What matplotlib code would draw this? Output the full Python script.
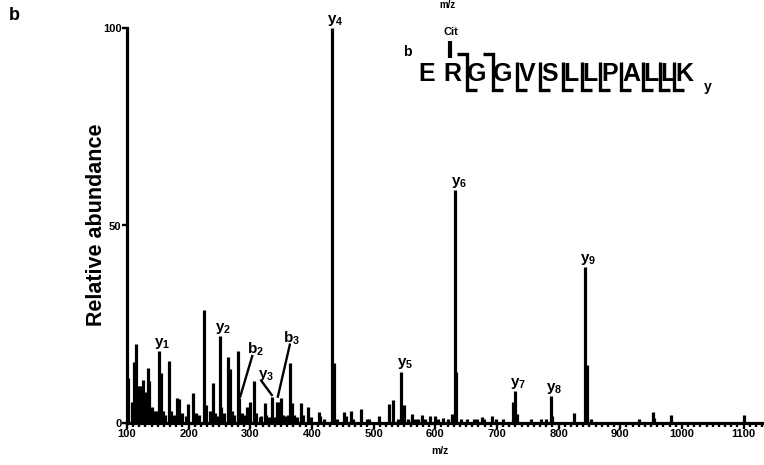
import numpy as np
import matplotlib.pyplot as plt
from matplotlib.ticker import MultipleLocator

plt.rcParams['font.family'] = ['Liberation Sans', 'DejaVu Sans']
plt.rcParams['mathtext.fontset'] = 'custom'
plt.rcParams['mathtext.rm'] = 'Liberation Sans'
plt.rcParams['mathtext.bf'] = 'Liberation Sans:bold'

# MS/MS spectrum (m/z, relative abundance)
mz = [102, 108, 111, 114, 119, 121, 126.5, 129, 134.6, 136, 140, 144, 147,
      152, 154.6, 158, 161, 168, 171, 176, 181.6, 185, 190, 196, 199.5, 207.6,
      212, 216, 224.9, 228, 234, 240, 243, 246, 250.3, 252.5, 257, 264.4, 267,
      270, 273, 280, 282, 286, 291, 295, 299.5, 306.5, 310, 315, 318, 323.8,
      326, 331, 335.7, 339, 343.8, 347, 350, 353, 358, 361, 364.4, 367, 371,
      375, 381.7, 386, 394, 399, 411, 413.5, 420, 433, 435.8, 440, 452, 455,
      463, 467, 479, 489, 492, 509, 525.5, 532, 539, 544.9, 549.8, 555, 561.8,
      567, 572, 579, 584, 591, 599, 605, 612, 620, 626.5, 632, 634, 641, 651,
      663, 667, 675, 679, 692, 699, 710, 726.6, 729.9, 732, 755, 771, 779,
      787.2, 789, 825.5, 843.4, 846, 852, 930, 953.7, 955, 982.9, 1100.8]
abundance = [11.4, 5.3, 15.5, 20, 9.4, 9.4, 10.9, 7.8, 13.9, 10.6, 4, 3, 3,
             18.2, 12.6, 3, 2, 15.7, 3, 2, 6.3, 6, 2.5, 1.8, 4.8, 7.6,
             2.5, 2, 28.6, 4.5, 3, 10.1, 2.5, 1.8, 21.9, 4, 2.5, 16.8, 13.7,
             3, 2, 18.2, 6.3, 2.5, 2, 4, 5.4, 10.6, 2.5, 1.5, 1.8, 5,
             2, 1.5, 6.7, 1.5, 5.4, 5.4, 6.3, 2, 1.8, 2, 15.1, 5, 2,
             1.5, 5.1, 2, 4.1, 1.5, 2.8, 1.8, 1, 100, 15.2, 1, 2.8, 1.8,
             3, 1, 3.5, 1, 1, 1.8, 4.8, 5.8, 1, 13, 4.6, 1, 2.3,
             1, 1, 2, 1, 1.8, 1.8, 1, 1.3, 1, 2.3, 59, 13, 1, 1,
             1, 1, 1.5, 1, 1.8, 1, 1, 5.2, 8.2, 2.3, 1, 1, 1,
             6.8, 1.8, 2.6, 39.4, 14.8, 1, 1, 2.7, 1.3, 2, 2]

# labelled fragment ions: letter, index, peak m/z, peak abundance
ion_type = ['y', 'y', 'y', 'y', 'y', 'y', 'y', 'y', 'y', 'b', 'b']
ion_num = ['1', '2', '3', '4', '5', '6', '7', '8', '9', '2', '3']
ion_mz = [152, 250.3, 335.7, 433, 544.9, 632, 729.9, 787.2, 843.4, 282, 343.8]
ion_ab = [18.2, 21.9, 6.7, 100, 13, 59, 8.2, 6.8, 39.4, 6.3, 5.4]

peptide = ['E', 'R', 'G', 'G', 'V', 'S', 'L', 'L', 'P', 'A', 'L', 'L', 'K']

W, H = 764, 465
fig = plt.figure(figsize=(W / 100, H / 100), dpi=100)
ax = fig.add_axes([127 / W, 1 - 423 / H, 1 - 127 / W, (423 - 28) / H])

ax.vlines(mz, 0, abundance, color='black', lw=2.3)
ax.set_xlim(100, 1133)
ax.set_ylim(0, 100)

for s in ['top', 'right']:
    ax.spines[s].set_visible(False)
for s in ['left', 'bottom']:
    ax.spines[s].set_linewidth(2.3)
    ax.spines[s].set_zorder(5)

ax.set_xticks(np.arange(100, 1101, 100))
ax.xaxis.set_minor_locator(MultipleLocator(10))
ax.set_yticks([0, 50, 100])
ax.tick_params(axis='x', which='major', length=4, width=1.7, pad=0.5)
ax.tick_params(axis='x', which='minor', length=3, width=1.7)
ax.tick_params(axis='y', which='major', length=3.5, width=1.7, pad=0.5)
for lab in ax.get_xticklabels() + ax.get_yticklabels():
    lab.set_family(['Liberation Sans Narrow', 'Liberation Sans'])
    lab.set_fontweight('bold')
    lab.set_fontsize(8)

fig.text(440 / W, 1 - 451 / H, 'm/z', ha='center', va='center',
         fontsize=7.5, fontweight='bold')
fig.text(447 / W, 1.0, 'm/z', ha='center', va='top',
         fontsize=7, fontweight='bold')
fig.text(97 / W, 1 - 225 / H, 'Relative abundance', rotation=90,
         ha='center', va='center', fontsize=15.5, fontweight='bold')
fig.text(14 / W, 1 - 15 / H, 'b', ha='center', va='center',
         fontsize=13, fontweight='bold')


def shift(x, y, dx, dy):
    px, py = ax.transData.transform((x, y))
    return ax.transData.inverted().transform((px + dx, py + dy))


# label placement (pixel offsets from the peak tip) and leader lines
label_off = {'y1': (-5, 0), 'y2': (-5, 0), 'y3': (-14, 14), 'y4': (-5, 0),
             'y5': (-4, 1), 'y6': (-4, 0), 'y7': (-5, 0), 'y8': (-5, 0),
             'y9': (-5, 0), 'b2': (8, 40), 'b3': (6, 55)}
leaders = {'b2': ((13, 42), (1, 1.5)), 'y3': ((-10.5, 15), (-0.5, 1.5)),
           'b3': ((12.5, 57), (0.5, 5))}

for t, n, x, y in zip(ion_type, ion_num, ion_mz, ion_ab):
    key = t + n
    dx, dy = label_off[key]
    tx, ty = shift(x, y, dx, dy)
    ax.text(tx, ty, r'$\mathbf{%s_{%s}}$' % (t, n), ha='left', va='bottom',
            fontsize=11, clip_on=False)
    if key in leaders:
        (sx, sy), (ex, ey) = leaders[key]
        p0 = shift(x, y, sx, sy)
        p1 = shift(x, y, ex, ey)
        ax.plot([p0[0], p1[0]], [p0[1], p1[1]], color='black', lw=1.7,
                clip_on=False)

# peptide sequence with fragment brackets (figure pixel layout)
letter_x = [427, 452, 477, 503, 527, 550, 571, 590, 610, 631, 651, 668, 684]
letter_y = 74
for ch, lx in zip(peptide, letter_x):
    fig.text(lx / W, 1 - letter_y / H, ch, ha='center', va='center',
             fontsize=18, fontweight='bold')


def fline(xs, ys, lw=2.4):
    fig.add_artist(plt.Line2D([v / W for v in xs], [1 - v / H for v in ys],
                              color='black', lw=lw, solid_capstyle='butt',
                              solid_joinstyle='miter'))


b_ions = [2, 3]
for i in range(2, len(peptide)):
    bx = letter_x[i] - 10 if peptide[i] != 'L' else letter_x[i] - 8
    if i in b_ions:
        fline([bx - 10, bx, bx, bx + 10], [54, 54, 90, 90])
    else:
        fline([bx, bx, bx + 10], [62, 90, 90])

fline([450, 450], [41, 58], lw=3)
fig.text(451 / W, 1 - 32 / H, 'Cit', ha='center', va='center',
         fontsize=8, fontweight='bold')
fig.text(407 / W, 1 - 52 / H, 'b', ha='center', va='center',
         fontsize=10, fontweight='bold')
fig.text(708 / W, 1 - 87 / H, 'y', ha='center', va='center',
         fontsize=10, fontweight='bold')

fig.savefig('out.png', dpi=100)
